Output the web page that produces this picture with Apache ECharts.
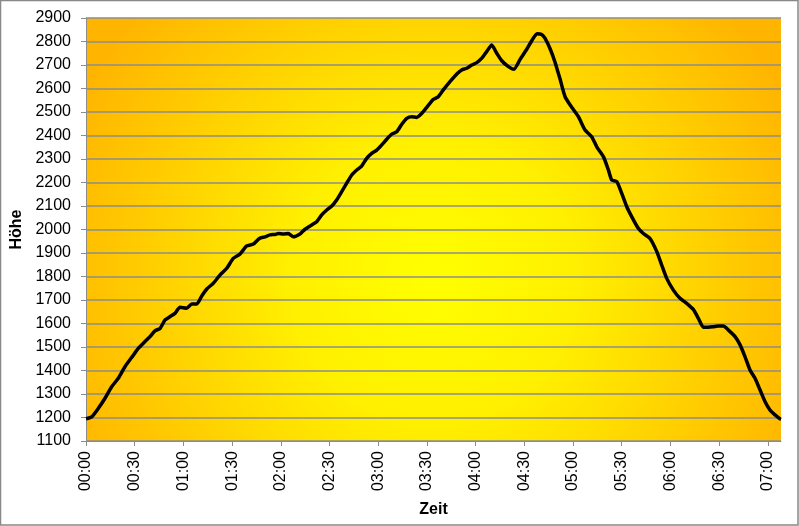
<!DOCTYPE html>
<html>
<head>
<meta charset="utf-8">
<script src="https://cdn.jsdelivr.net/npm/echarts@6/dist/echarts.min.js"></script>
<style>
  html, body { margin: 0; padding: 0; background: #fff; }
  #main { width: 799px; height: 526px; }
</style>
</head>
<body>
<div id="main"></div>
<script>
'use strict';

// Zeit in Minuten ab Start
var minutes = [0, 3.5, 7.6, 11.7, 15.8, 19.9, 24.0, 28.2, 32.2, 36.3, 39.4, 42.5, 45.6, 48.7, 51.7, 54.8,
	57.9, 62.0, 65.1, 68.2, 71.3, 74.4, 78.4, 82.5, 86.7, 90.7, 94.9, 99.0, 103.1, 106.8, 110.3, 113.3,
	116.4, 118.5, 121.5, 124.6, 127.7, 131.8, 134.9, 139.0, 142.1, 145.2, 148.3, 151.4, 154.4, 157.5,
	160.6, 163.7, 166.8, 169.8, 172.9, 176.0, 179.1, 182.2, 185.2, 188.3, 191.4, 194.5, 197.6, 200.6,
	203.7, 206.8, 209.9, 214.0, 217.0, 220.1, 224.2, 228.4, 231.4, 234.5, 237.6, 240.7, 243.8, 246.8,
	249.9, 253.0, 256.1, 260.2, 263.6, 267.4, 271.5, 275.5, 278.0, 280.7, 282.7, 285.8, 288.9, 292.0,
	295.1, 299.2, 303.3, 307.4, 311.5, 314.6, 318.7, 321.8, 323.8, 326.9, 330.0, 333.1, 336.2, 340.2,
	343.3, 347.4, 351.6, 354.6, 357.7, 361.8, 365.9, 370.0, 374.1, 377.2, 380.3, 383.3, 386.4, 389.5,
	392.6, 395.7, 399.8, 402.9, 405.9, 409.0, 412.1, 415.2, 418.3, 421.3, 424.4, 427.5, 428.1];

// Höhe in m
var heights = [1195, 1203, 1239, 1282, 1331, 1367, 1416, 1456, 1494, 1523, 1544, 1569, 1579, 1615, 1629, 1643,
	1669, 1665, 1683, 1683, 1717, 1747, 1771, 1806, 1835, 1877, 1896, 1930, 1938, 1962, 1969, 1977,
	1979, 1983, 1981, 1983, 1969, 1981, 2001, 2019, 2033, 2062, 2083, 2100, 2126, 2161,
	2197, 2232, 2253, 2270, 2303, 2324, 2338, 2360, 2384, 2406, 2416, 2448, 2473, 2480,
	2477, 2494, 2520, 2554, 2565, 2594, 2629, 2662, 2679, 2686, 2700, 2710, 2729, 2757,
	2785, 2750, 2718, 2693, 2682, 2724, 2767, 2814, 2833, 2830, 2814, 2770, 2712, 2640,
	2565, 2520, 2480, 2423, 2395, 2352, 2310, 2253, 2211, 2204, 2154, 2097, 2054, 2005,
	1983, 1962, 1906, 1849, 1792, 1742, 1707, 1686, 1660, 1622, 1584, 1584, 1586, 1589,
	1589, 1572, 1544, 1509, 1459, 1402, 1367, 1317, 1267, 1232, 1211, 1194, 1192];

// Achsenbeschriftung x (alle 30 min)
var tickMinutes = [0, 30, 60, 90, 120, 150, 180, 210, 240, 270, 300, 330, 360, 390, 420];

function fmtTime(m) {
	var h = Math.floor(m / 60);
	var mm = Math.round(m % 60);
	return (h < 10 ? '0' : '') + h + ':' + (mm < 10 ? '0' : '') + mm;
}

var chart = echarts.init(document.getElementById('main'));
var font = '"Liberation Sans", Arial, sans-serif';
var gray = '#8c8c8c';

var points = [];
for (var i = 0; i < minutes.length; i++) {
	points.push([minutes[i], heights[i]]);
}

var option = {
	backgroundColor: '#ffffff',
	animation: false,
	grid: {
		left: 86, right: 18, top: 18, bottom: 85,
		containLabel: false,
		outerBoundsMode: 'none',
		show: true,
		borderWidth: 0,
		backgroundColor: {
			type: 'radial', x: 0.5, y: 0.62, r: 0.95,
			colorStops: [
				{ offset: 0, color: '#ffff00' },
				{ offset: 0.35, color: '#fff000' },
				{ offset: 0.7, color: '#ffcf00' },
				{ offset: 1, color: '#ffb400' }
			]
		}
	},
	xAxis: {
		type: 'value',
		min: 0,
		max: 428.1,
		name: 'Zeit',
		nameLocation: 'middle',
		nameGap: 61,
		nameTextStyle: { fontFamily: font, fontSize: 16, fontWeight: 'bold', color: '#000' },
		axisLine: { show: true, lineStyle: { color: gray, width: 1 } },
		axisTick: { show: true, length: 5, customValues: tickMinutes, lineStyle: { color: gray } },
		axisLabel: {
			customValues: tickMinutes,
			rotate: 90,
			margin: 10,
			fontFamily: font,
			fontSize: 16,
			color: '#000',
			formatter: function(v) { return fmtTime(v); }
		},
		splitLine: { show: false }
	},
	yAxis: {
		type: 'value',
		min: 1100,
		max: 2900,
		interval: 100,
		name: 'Höhe',
		nameLocation: 'middle',
		nameGap: 57,
		nameTextStyle: { fontFamily: font, fontSize: 16, fontWeight: 'bold', color: '#000' },
		axisLine: { show: true, lineStyle: { color: gray, width: 1 } },
		axisTick: { show: true, length: 5, lineStyle: { color: gray } },
		axisLabel: {
			margin: 15, fontFamily: font, fontSize: 16, color: '#000',
			formatter: function(v) { return String(v); }
		},
		splitLine: { show: true, lineStyle: { color: gray, width: 1.5 } }
	},
	series: [{
		type: 'line',
		data: points,
		showSymbol: false,
		smooth: 0.2,
		lineStyle: { color: '#000', width: 3.5 },
		z: 5
	}],
	graphic: [{
		type: 'rect',
		shape: { x: 0.5, y: 0.5, width: 797.5, height: 524.5 },
		style: { fill: null, stroke: '#888', lineWidth: 1.5 },
		silent: true
	}]
};

chart.setOption(option);
</script>
</body>
</html>
